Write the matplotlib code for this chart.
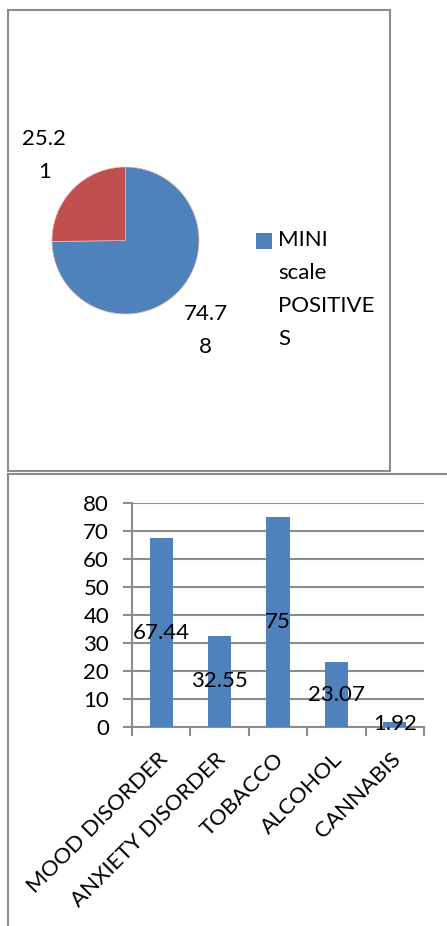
import matplotlib
matplotlib.use("Agg")
import matplotlib.pyplot as plt
from matplotlib.lines import Line2D
from matplotlib.patches import Rectangle
from matplotlib.transforms import ScaledTranslation

# ---- data ----
pie_values = [74.78, 25.21]
pie_labels = ["74.7\n8", "25.2\n1"]
pie_colors = ["#4F81BD", "#C0504D"]
legend_label = "MINI\nscale\nPOSITIVE\nS"

categories = ["MOOD DISORDER", "ANXIETY DISORDER", "TOBACCO", "ALCOHOL", "CANNABIS"]
bar_values = [67.44, 32.55, 75, 23.07, 1.92]
bar_labels = ["67.44", "32.55", "75", "23.07", "1.92"]
yticks = [0, 10, 20, 30, 40, 50, 60, 70, 80]

W, H = 447, 926
plt.rcParams['font.family'] = ['Lato', 'DejaVu Sans']
fig = plt.figure(figsize=(W / 100, H / 100), dpi=100)
fig.patch.set_facecolor('white')

def fx(x):
    return x / W

def fy(y):
    return 1 - y / H

def box(l, t, r, b):
    return [fx(l), fy(b), (r - l) / W, (b - t) / H]

gray = '#8c8c8c'

def hline(x0, x1, y):
    fig.add_artist(Line2D([fx(x0), fx(x1)], [fy(y), fy(y)], color=gray, lw=1.5,
                          transform=fig.transFigure))

def vline(x, y0, y1):
    fig.add_artist(Line2D([fx(x), fx(x)], [fy(y0), fy(y1)], color=gray, lw=1.5,
                          transform=fig.transFigure))

# panel borders
hline(7.5, 390, 10)
hline(7.5, 390, 471)
vline(7.5, 10, 471)
vline(390, 10, 471)
hline(7.5, 447, 473.5)
vline(7.5, 473.5, 926)

# ---- pie ----
cx, cy, r = 125.5, 240.5, 73.5
axp = fig.add_axes(box(cx - r, cy - r, cx + r, cy + r))
wedges, texts = axp.pie(pie_values, colors=pie_colors, startangle=90, counterclock=False,
                        labels=pie_labels, labeldistance=1.63,
                        wedgeprops=dict(edgecolor='#e8b8b8', linewidth=0.5))
for t in texts:
    t.set_ha('center')
    t.set_va('center')
    t.set_fontsize(16)
    t.set_linespacing(1.8)
# small Excel-like offset of outside-end labels
texts[0].set_transform(axp.transData + ScaledTranslation(-5 / 100, -6 / 100, fig.dpi_scale_trans))
texts[1].set_transform(axp.transData + ScaledTranslation(4 / 100, 1 / 100, fig.dpi_scale_trans))
axp.set_xlim(-1, 1)
axp.set_ylim(-1, 1)

# legend (single visible entry)
fig.add_artist(Rectangle((fx(256), fy(248.5)), 16 / W, 15.5 / H, facecolor=pie_colors[0],
                         edgecolor='none', transform=fig.transFigure))
fig.text(fx(278), fy(289.5), legend_label, fontsize=16, ha='left', va='center',
         linespacing=1.8)

# ---- bar chart ----
axb = fig.add_axes(box(132, 503, 424, 727))
x = list(range(len(categories)))
bars = axb.bar(x, bar_values, width=0.4, color='#4F81BD', zorder=3)
axb.set_ylim(0, 80)
axb.set_xlim(-0.5, len(categories) - 0.5)
axb.set_yticks(yticks)
axb.grid(axis='y', color=gray, lw=1.5, zorder=0)
axb.set_axisbelow(True)
for s in ['top', 'right']:
    axb.spines[s].set_visible(False)
for s in ['left', 'bottom']:
    axb.spines[s].set_color(gray)
    axb.spines[s].set_linewidth(1.5)
axb.tick_params(axis='y', length=6.5, width=1.5, color=gray, labelsize=16, pad=10)
axb.set_xticks(x)
axb.set_xticklabels(categories, rotation=45, ha='right', va='center',
                    rotation_mode='anchor', fontsize=16)
axb.set_xticks([i - 0.5 for i in range(len(categories) + 1)], minor=True)
axb.tick_params(axis='x', which='major', length=0, pad=21)
axb.tick_params(axis='x', which='minor', length=6.5, width=1.5, color=gray)
for lab in axb.get_xticklabels():
    lab.set_transform(lab.get_transform() + ScaledTranslation(3 / 100, 0, fig.dpi_scale_trans))
axb.bar_label(bars, labels=bar_labels, label_type='center', fontsize=16, zorder=4)

fig.savefig('out.png', dpi=100)
